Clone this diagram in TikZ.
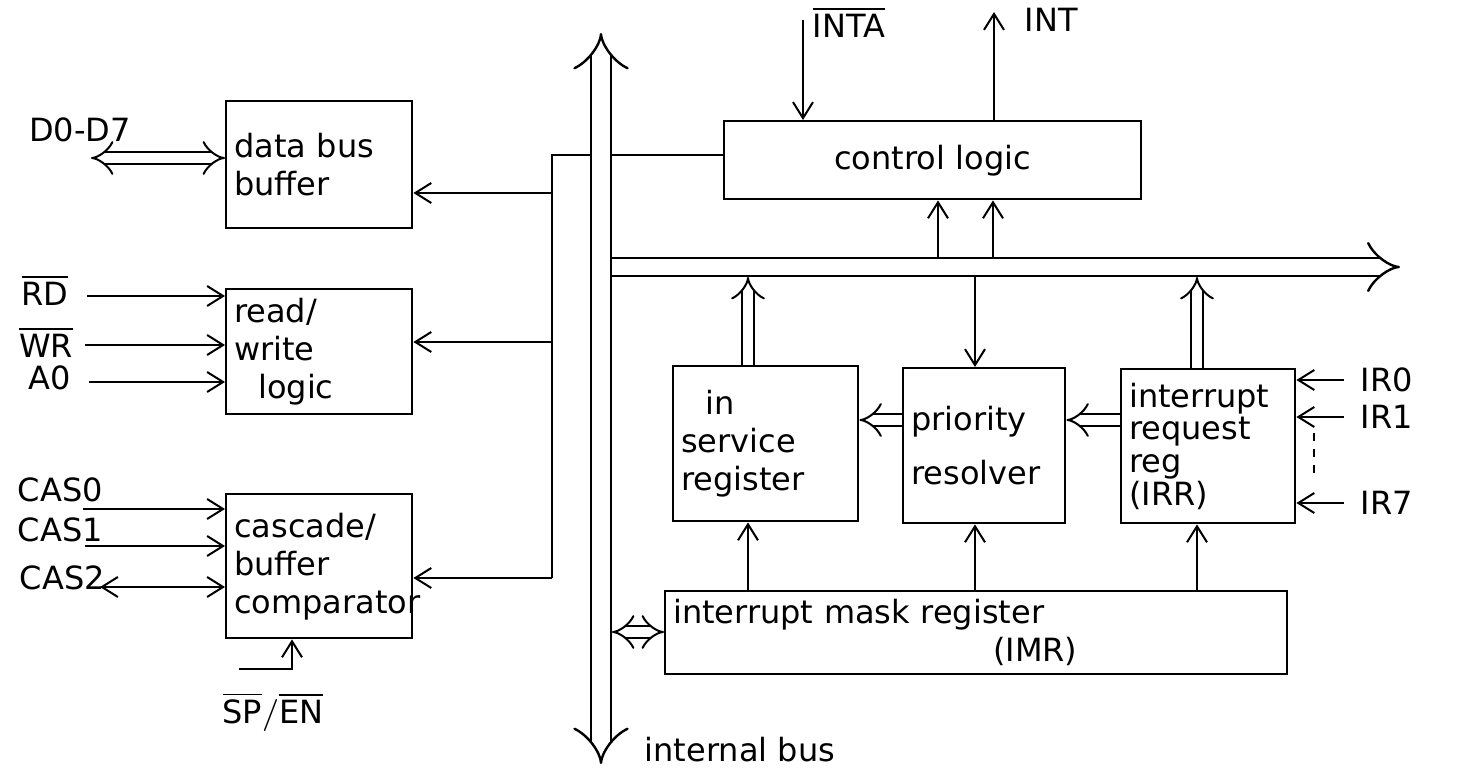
\documentclass[tikz,border=0pt]{standalone}
\usepackage{fontspec}
\setmainfont{DejaVu Sans}
\usetikzlibrary{arrows.meta, calc, positioning}

\tikzset{
  blk/.style={draw, line width=0.6pt, anchor=north west, align=left,
              inner sep=2pt},
  lbl/.style={inner sep=1pt},
  wire/.style={line width=0.5pt},
  sig/.style={wire, -{Straight Barb[length=4pt,width=5pt]}},
  sigtwo/.style={wire, {Straight Barb[length=4pt,width=5pt]}-{Straight Barb[length=4pt,width=5pt]}},
  dbl/.style={wire, double, double distance=2.5pt,
              -{Implies[length=4.5pt,width=8pt]}},
  dbltwo/.style={dbl, {Implies[length=4.5pt,width=8pt]}-{Implies[length=4.5pt,width=8pt]}},
  bus/.style={line width=0.6pt, double, double distance=4.4pt,
              {Implies[length=7.5pt,width=12pt]}-{Implies[length=7.5pt,width=12pt]}},
  hbus/.style={line width=0.6pt, double, double distance=3.9pt,
               -{Implies[length=7pt,width=14pt]}},
}

\begin{document}
\begin{tikzpicture}[x=0.25pt, y=-0.25pt, font=\fontsize{8}{9.5}\selectfont]
  \useasboundingbox (0,0) rectangle (1458,769);

  % internal bus
  \coordinate (bustop) at (601,33);
  \coordinate (busbot) at (601,764);
  \draw[bus] (busbot) -- (bustop);
  \node[lbl, anchor=west] (ibus) at (640,750) {internal bus};

  % left blocks
  \node[blk, text width=42.5pt, minimum height=31.75pt] (dbb) at (225,100)
       {data bus\\buffer};
  \node[blk, text width=42.5pt, minimum height=31.25pt] (rwl) at (225,288)
       {read/\\write\\\hspace*{6pt}logic};
  \node[blk, text width=42.5pt, minimum height=36pt] (cas) at (225,493)
       {cascade/\\buffer\\comparator};

  % right blocks
  \node[blk, text width=100.25pt, minimum height=19.5pt, align=center] (ctl)
       at (723,120) {control logic};
  \node[blk, text width=42.25pt, minimum height=38.75pt] (isr) at (672,365)
       {\hspace*{6pt}in\\service\\register};
  \node[blk, text width=36.5pt, minimum height=38.75pt] (pr) at (902,367)
       {priority\\[4pt]resolver};
  \node[blk, text width=39.5pt, minimum height=38.5pt,
        font=\fontsize{8}{8.2}\selectfont] (irr) at (1120,368)
       {interrupt\\request\\reg\\(IRR)};
  \node[blk, text width=151.5pt, minimum height=20.75pt] (imr) at (664,590)
       {interrupt mask register\\\hspace*{80pt}(IMR)};

  % data bus side
  \node[lbl] (dlbl) at (80,130) {D0-D7};
  \coordinate (dq) at (91,158);
  \draw[dbltwo] (dq) -- (dq -| dbb.west);

  % taps off the internal bus
  \coordinate (tapL) at (591,155);
  \coordinate (tapR) at (611,155);
  \coordinate (jtop) at (552,155);
  \coordinate (jbot) at (552,578);
  \draw[wire] (tapL) -- (jtop) -- (jbot);
  \draw[wire] (tapR) -- (tapR -| ctl.west);
  \coordinate (j1) at (552,193);
  \coordinate (j2) at (552,342);
  \draw[sig] (j1) -- (j1 -| dbb.east);
  \draw[sig] (j2) -- (j2 -| rwl.east);
  \draw[sig] (jbot) -- (jbot -| cas.east);

  % read/write inputs
  \node[lbl] (rd) at (45,290) {$\overline{\mbox{RD}}$};
  \node[lbl] (wr) at (46,342) {$\overline{\mbox{WR}}$};
  \node[lbl] (azero) at (50,378) {A0};
  \coordinate (rdin) at (87,296);
  \coordinate (wrin) at (85,345);
  \coordinate (azin) at (89,382);
  \draw[sig] (rdin) -- (rdin -| rwl.west);
  \draw[sig] (wrin) -- (wrin -| rwl.west);
  \draw[sig] (azin) -- (azin -| rwl.west);

  % cascade lines
  \node[lbl, anchor=west] (cas0) at (13,490) {CAS0};
  \node[lbl, anchor=west] (cas1) at (13,530) {CAS1};
  \node[lbl, anchor=west] (cas2) at (15,578) {CAS2};
  \coordinate (k0) at (83,509);
  \coordinate (k1) at (85,546);
  \coordinate (k2) at (100,587);
  \draw[sig] (k0) -- (k0 -| cas.west);
  \draw[sig] (k1) -- (k1 -| cas.west);
  \draw[sigtwo] (k2) -- (k2 -| cas.west);

  % slave program / enable buffer
  \coordinate (spen) at (239,669);
  \coordinate (spk) at (292,669);
  \draw[sig] (spen) -- (spk) -- (spk |- cas.south);
  \node[lbl] (splbl) at (273,712) {$\overline{\mbox{SP}}/\overline{\mbox{EN}}$};

  % control logic pins
  \coordinate (intain) at (803,20);
  \draw[sig] (intain) -- (intain |- ctl.north);
  \node[lbl, anchor=west] (inta) at (808,22) {$\overline{\mbox{INTA}}$};
  \coordinate (intout) at (994,12);
  \draw[sig] (intout |- ctl.north) -- (intout);
  \node[lbl, anchor=west] (int) at (1020,20) {INT};

  % horizontal bus
  \coordinate (hb0) at (612,267);
  \coordinate (hb1) at (1400,267);
  \draw[hbus] (hb0) -- (hb1);
  \coordinate (c1) at (938,258);
  \coordinate (c2) at (993,258);
  \draw[sig] (c1) -- (c1 |- ctl.south);
  \draw[sig] (c2) -- (c2 |- ctl.south);
  \coordinate (b1) at (748,277);
  \coordinate (b2) at (975,277);
  \coordinate (b3) at (1197,277);
  \draw[dbl] (b1 |- isr.north) -- (b1);
  \draw[sig] (b2) -- (b2 |- pr.north);
  \draw[dbl] (b3 |- irr.north) -- (b3);

  % between registers
  \coordinate (h1) at (0,420);
  \draw[dbl] (h1 -| pr.west) -- (h1 -| isr.east);
  \draw[dbl] (h1 -| irr.west) -- (h1 -| pr.east);

  % mask register
  \draw[sig] (b1 |- imr.north) -- (b1 |- isr.south);
  \draw[sig] (b2 |- imr.north) -- (b2 |- pr.south);
  \draw[sig] (b3 |- imr.north) -- (b3 |- irr.south);
  \coordinate (h2) at (612,632);
  \draw[dbltwo] (h2) -- (h2 -| imr.west);

  % interrupt requests
  \node[lbl, anchor=west] (ir0) at (1356,380) {IR0};
  \node[lbl, anchor=west] (ir1) at (1356,417) {IR1};
  \node[lbl, anchor=west] (ir7) at (1356,503) {IR7};
  \coordinate (q0) at (1344,380);
  \coordinate (q1) at (1344,417);
  \coordinate (q7) at (1344,503);
  \draw[sig] (q0) -- (q0 -| irr.east);
  \draw[sig] (q1) -- (q1 -| irr.east);
  \draw[sig] (q7) -- (q7 -| irr.east);
  \draw[wire, dashed, dash pattern=on 2pt off 2pt] (1314,433) -- (1314,477);
\end{tikzpicture}
\end{document}
